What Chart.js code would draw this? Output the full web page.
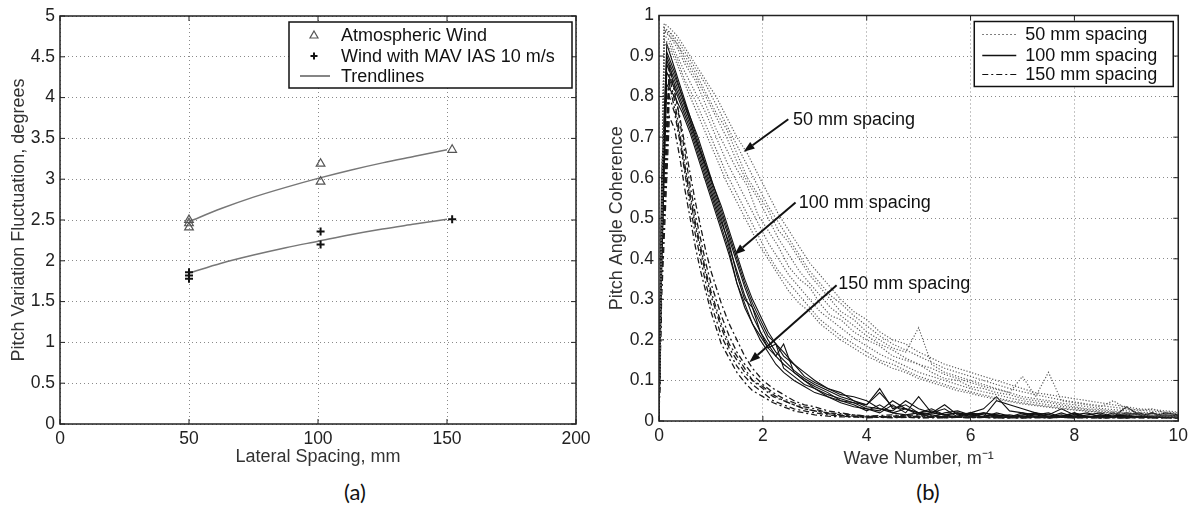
<!DOCTYPE html>
<html>
<head>
<meta charset="utf-8">
<script src="https://cdn.jsdelivr.net/npm/chart.js@4.4.0/dist/chart.umd.min.js"></script>
<style>
body { margin: 0; background: #fff; }
#wrap { position: relative; width: 1193px; height: 508px; overflow: hidden; }
.panel { position: absolute; top: 0; height: 470px; }
#pa { left: 0; width: 596px; }
#pb { left: 596px; width: 597px; }
.cap { position: absolute; top: 478px; font: 22px Lato, "Noto Sans", sans-serif; color: #111; transform: translateX(-50%); }
</style>
</head>
<body>
<div id="wrap">
  <div class="panel" id="pa"><canvas id="chartA"></canvas></div>
  <div class="panel" id="pb"><canvas id="chartB"></canvas></div>
  <div class="cap" style="left:355px">(a)</div>
  <div class="cap" style="left:928px">(b)</div>
</div>
<script>
// ---- panel (a): pitch variation vs lateral spacing ----
const spacingAtm = [50, 50, 50, 101, 101, 152];
const pitchAtm = [2.50, 2.46, 2.41, 3.19, 2.97, 3.36];
const spacingMav = [50, 50, 50, 101, 101, 152];
const pitchMav = [1.86, 1.82, 1.78, 2.36, 2.20, 2.51];
const trendX = [50, 62.5, 75, 87.5, 100, 112.5, 125, 137.5, 150];
const trendAtm = [2.48, 2.64, 2.78, 2.90, 3.01, 3.11, 3.20, 3.28, 3.36];
const trendMav = [1.85, 1.97, 2.07, 2.16, 2.24, 2.32, 2.39, 2.45, 2.51];
const xTicksA = [0, 50, 100, 150, 200];
const yTicksA = [0, 0.5, 1, 1.5, 2, 2.5, 3, 3.5, 4, 4.5, 5];

// ---- panel (b): pitch angle coherence vs wave number ----
const wave50 = [0, 0.1, 0.2, 0.35, 0.5, 0.7, 0.9, 1.1, 1.3, 1.5, 1.7, 1.9, 2.1, 2.3, 2.5, 2.7, 2.9, 3.1, 3.3, 3.5,
  3.75, 4, 4.25, 4.5, 4.75, 5, 5.25, 5.5, 5.75, 6, 6.25, 6.5, 6.75, 7, 7.25, 7.5, 7.75, 8, 8.25, 8.5, 8.75, 9, 9.25, 9.5, 9.75, 10];
const coh50 = [
  [0, 0.97, 0.96, 0.94, 0.91, 0.87, 0.83, 0.78, 0.73, 0.68, 0.63, 0.58, 0.53, 0.49, 0.45, 0.41, 0.37, 0.34, 0.31, 0.29,
   0.26, 0.235, 0.21, 0.19, 0.175, 0.16, 0.145, 0.13, 0.12, 0.11, 0.10, 0.09, 0.08, 0.072, 0.065, 0.058, 0.052, 0.047, 0.042, 0.038, 0.034, 0.03, 0.027, 0.024, 0.022, 0.02],
  [0, 0.96, 0.95, 0.93, 0.89, 0.85, 0.80, 0.75, 0.70, 0.64, 0.59, 0.55, 0.50, 0.45, 0.41, 0.37, 0.34, 0.31, 0.28, 0.26,
   0.235, 0.21, 0.19, 0.175, 0.155, 0.14, 0.13, 0.115, 0.105, 0.095, 0.085, 0.078, 0.07, 0.06, 0.055, 0.05, 0.044, 0.04, 0.035, 0.031, 0.028, 0.025, 0.022, 0.02, 0.018, 0.016],
  [0, 0.97, 0.95, 0.92, 0.88, 0.84, 0.78, 0.72, 0.67, 0.62, 0.58, 0.51, 0.47, 0.43, 0.38, 0.35, 0.33, 0.29, 0.26, 0.25,
   0.22, 0.20, 0.185, 0.16, 0.15, 0.14, 0.12, 0.105, 0.10, 0.085, 0.08, 0.07, 0.065, 0.055, 0.05, 0.046, 0.04, 0.035, 0.03, 0.028, 0.024, 0.02, 0.02, 0.017, 0.015, 0.013],
  [0, 0.95, 0.94, 0.90, 0.86, 0.81, 0.76, 0.70, 0.64, 0.59, 0.54, 0.49, 0.44, 0.40, 0.36, 0.33, 0.30, 0.27, 0.25, 0.23,
   0.205, 0.185, 0.165, 0.15, 0.135, 0.12, 0.11, 0.10, 0.09, 0.08, 0.072, 0.065, 0.057, 0.05, 0.045, 0.04, 0.036, 0.032, 0.028, 0.025, 0.022, 0.019, 0.017, 0.015, 0.013, 0.012],
  [0, 0.94, 0.93, 0.89, 0.84, 0.79, 0.73, 0.67, 0.61, 0.56, 0.51, 0.46, 0.41, 0.37, 0.34, 0.31, 0.28, 0.25, 0.23, 0.21,
   0.19, 0.17, 0.15, 0.14, 0.125, 0.11, 0.10, 0.09, 0.08, 0.072, 0.064, 0.057, 0.05, 0.045, 0.04, 0.036, 0.032, 0.028, 0.025, 0.022, 0.02, 0.017, 0.015, 0.013, 0.012, 0.01],
  [0, 0.96, 0.96, 0.93, 0.90, 0.86, 0.81, 0.76, 0.72, 0.66, 0.60, 0.56, 0.52, 0.47, 0.44, 0.40, 0.36, 0.33, 0.30, 0.27,
   0.25, 0.22, 0.20, 0.18, 0.17, 0.23, 0.14, 0.12, 0.11, 0.10, 0.09, 0.08, 0.07, 0.11, 0.06, 0.12, 0.05, 0.045, 0.04, 0.035, 0.05, 0.03, 0.026, 0.03, 0.02, 0.018],
  [0, 0.98, 0.97, 0.95, 0.92, 0.88, 0.84, 0.80, 0.75, 0.70, 0.66, 0.61, 0.56, 0.51, 0.47, 0.43, 0.39, 0.36, 0.33, 0.30,
   0.27, 0.25, 0.22, 0.20, 0.19, 0.17, 0.155, 0.14, 0.13, 0.12, 0.11, 0.10, 0.09, 0.08, 0.07, 0.065, 0.06, 0.055, 0.05, 0.045, 0.04, 0.035, 0.03, 0.028, 0.025, 0.022],
  [0, 0.93, 0.92, 0.88, 0.83, 0.77, 0.71, 0.65, 0.59, 0.54, 0.49, 0.44, 0.40, 0.36, 0.32, 0.29, 0.27, 0.24, 0.22, 0.20,
   0.18, 0.16, 0.145, 0.13, 0.12, 0.105, 0.095, 0.085, 0.075, 0.068, 0.06, 0.054, 0.048, 0.042, 0.038, 0.034, 0.03, 0.027, 0.024, 0.021, 0.019, 0.016, 0.014, 0.013, 0.011, 0.01]
];

const wave100 = [0, 0.05, 0.15, 0.3, 0.45, 0.6, 0.75, 0.9, 1.05, 1.2, 1.35, 1.5, 1.65, 1.8, 1.95, 2.1, 2.25, 2.4, 2.6, 2.8, 3, 3.25, 3.5, 3.75,
  4, 4.25, 4.5, 4.75, 5, 5.25, 5.5, 5.75, 6, 6.25, 6.5, 6.75, 7, 7.25, 7.5, 7.75, 8, 8.25, 8.5, 8.75, 9, 9.25, 9.5, 9.75, 10];
const coh100 = [
  [0, 0.55, 0.93, 0.87, 0.81, 0.75, 0.69, 0.63, 0.57, 0.51, 0.45, 0.39, 0.33, 0.28, 0.24, 0.20, 0.17, 0.15, 0.125, 0.105, 0.09, 0.075, 0.06, 0.05,
   0.04, 0.08, 0.03, 0.04, 0.02, 0.03, 0.015, 0.02, 0.01, 0.02, 0.012, 0.015, 0.01, 0.02, 0.01, 0.015, 0.008, 0.012, 0.01, 0.015, 0.008, 0.01, 0.012, 0.008, 0.01],
  [0, 0.6, 0.91, 0.86, 0.80, 0.74, 0.68, 0.62, 0.56, 0.50, 0.43, 0.37, 0.31, 0.26, 0.22, 0.19, 0.16, 0.14, 0.12, 0.10, 0.08, 0.065, 0.055, 0.045,
   0.03, 0.02, 0.04, 0.02, 0.06, 0.02, 0.03, 0.01, 0.015, 0.01, 0.02, 0.012, 0.01, 0.015, 0.02, 0.01, 0.012, 0.008, 0.015, 0.01, 0.012, 0.008, 0.01, 0.012, 0.008],
  [0, 0.45, 0.89, 0.84, 0.79, 0.74, 0.68, 0.63, 0.58, 0.52, 0.46, 0.40, 0.34, 0.29, 0.25, 0.21, 0.19, 0.16, 0.14, 0.11, 0.095, 0.08, 0.065, 0.06,
   0.05, 0.03, 0.02, 0.03, 0.015, 0.02, 0.04, 0.015, 0.02, 0.03, 0.06, 0.025, 0.02, 0.015, 0.01, 0.02, 0.01, 0.015, 0.02, 0.01, 0.035, 0.015, 0.01, 0.015, 0.012],
  [0, 0.5, 0.86, 0.82, 0.77, 0.72, 0.66, 0.60, 0.54, 0.48, 0.42, 0.34, 0.28, 0.24, 0.21, 0.18, 0.19, 0.13, 0.11, 0.09, 0.08, 0.06, 0.05, 0.04,
   0.025, 0.04, 0.02, 0.015, 0.02, 0.01, 0.02, 0.025, 0.015, 0.01, 0.015, 0.01, 0.02, 0.01, 0.015, 0.03, 0.015, 0.01, 0.01, 0.02, 0.01, 0.012, 0.02, 0.01, 0.015],
  [0, 0.4, 0.83, 0.80, 0.76, 0.71, 0.65, 0.59, 0.53, 0.47, 0.41, 0.34, 0.29, 0.24, 0.20, 0.17, 0.14, 0.12, 0.10, 0.085, 0.07, 0.06, 0.045, 0.035,
   0.03, 0.025, 0.05, 0.03, 0.02, 0.015, 0.01, 0.012, 0.02, 0.015, 0.01, 0.008, 0.012, 0.01, 0.008, 0.012, 0.02, 0.01, 0.008, 0.01, 0.015, 0.02, 0.01, 0.008, 0.01],
  [0, 0.35, 0.90, 0.85, 0.80, 0.75, 0.70, 0.64, 0.58, 0.53, 0.47, 0.41, 0.35, 0.30, 0.26, 0.22, 0.19, 0.17, 0.14, 0.12, 0.10, 0.08, 0.07, 0.05,
   0.035, 0.03, 0.025, 0.05, 0.03, 0.02, 0.015, 0.01, 0.02, 0.01, 0.05, 0.04, 0.03, 0.02, 0.015, 0.01, 0.02, 0.01, 0.015, 0.01, 0.02, 0.015, 0.01, 0.02, 0.015],
  [0, 0.5, 0.88, 0.83, 0.78, 0.73, 0.67, 0.61, 0.55, 0.49, 0.44, 0.36, 0.30, 0.28, 0.22, 0.18, 0.16, 0.19, 0.12, 0.10, 0.085, 0.07, 0.05, 0.045,
   0.04, 0.07, 0.035, 0.03, 0.02, 0.025, 0.015, 0.02, 0.015, 0.02, 0.015, 0.01, 0.015, 0.02, 0.01, 0.01, 0.015, 0.02, 0.01, 0.012, 0.015, 0.01, 0.02, 0.01, 0.012]
];

const wave150 = [0, 0.05, 0.2, 0.3, 0.4, 0.5, 0.6, 0.7, 0.8, 0.9, 1, 1.1, 1.2, 1.35, 1.5, 1.65, 1.8, 2, 2.2, 2.4,
  2.6, 2.8, 3, 3.25, 3.5, 3.75, 4, 4.5, 5, 5.5, 6, 6.5, 7, 7.5, 8, 8.5, 9, 9.5, 10];
const coh150 = [
  [0, 0.45, 0.88, 0.82, 0.74, 0.66, 0.58, 0.51, 0.45, 0.39, 0.34, 0.30, 0.26, 0.21, 0.17, 0.14, 0.115, 0.09, 0.07, 0.055,
   0.045, 0.035, 0.03, 0.02, 0.018, 0.015, 0.012, 0.015, 0.01, 0.012, 0.01, 0.008, 0.01, 0.008, 0.01, 0.008, 0.01, 0.008, 0.008],
  [0, 0.4, 0.85, 0.79, 0.71, 0.63, 0.56, 0.49, 0.43, 0.37, 0.32, 0.28, 0.24, 0.19, 0.16, 0.13, 0.10, 0.08, 0.06, 0.05,
   0.04, 0.03, 0.025, 0.02, 0.015, 0.012, 0.01, 0.012, 0.015, 0.01, 0.008, 0.01, 0.012, 0.008, 0.01, 0.008, 0.008, 0.01, 0.008],
  [0, 0.35, 0.80, 0.76, 0.69, 0.61, 0.53, 0.46, 0.40, 0.34, 0.29, 0.25, 0.21, 0.17, 0.135, 0.11, 0.09, 0.07, 0.05, 0.04,
   0.03, 0.025, 0.02, 0.015, 0.012, 0.01, 0.01, 0.008, 0.01, 0.008, 0.01, 0.008, 0.008, 0.01, 0.008, 0.01, 0.008, 0.008, 0.01],
  [0, 0.3, 0.75, 0.72, 0.65, 0.57, 0.50, 0.43, 0.37, 0.32, 0.27, 0.23, 0.19, 0.155, 0.12, 0.095, 0.075, 0.06, 0.045, 0.035,
   0.025, 0.02, 0.015, 0.012, 0.01, 0.01, 0.008, 0.01, 0.008, 0.008, 0.01, 0.008, 0.008, 0.01, 0.008, 0.008, 0.01, 0.008, 0.008],
  [0, 0.42, 0.87, 0.81, 0.75, 0.68, 0.61, 0.54, 0.48, 0.42, 0.37, 0.33, 0.29, 0.24, 0.20, 0.16, 0.13, 0.10, 0.08, 0.065,
   0.05, 0.04, 0.035, 0.025, 0.02, 0.015, 0.012, 0.01, 0.012, 0.01, 0.01, 0.012, 0.008, 0.01, 0.008, 0.01, 0.008, 0.01, 0.008],
  [0, 0.38, 0.83, 0.77, 0.70, 0.62, 0.55, 0.48, 0.42, 0.36, 0.31, 0.27, 0.23, 0.18, 0.15, 0.12, 0.10, 0.085, 0.065, 0.05,
   0.04, 0.03, 0.025, 0.018, 0.014, 0.012, 0.01, 0.01, 0.008, 0.01, 0.008, 0.01, 0.008, 0.008, 0.01, 0.008, 0.008, 0.01, 0.008]
];
const xTicksB = [0, 2, 4, 6, 8, 10];
const yTicksB = [0, 0.1, 0.2, 0.3, 0.4, 0.5, 0.6, 0.7, 0.8, 0.9, 1];

// arrow annotations in panel (b), data units
const noteText = ['50 mm spacing', '100 mm spacing', '150 mm spacing'];
const noteAt = [[2.58, 0.744], [2.69, 0.539], [3.45, 0.34]];
const arrowFrom = [[2.49, 0.744], [2.63, 0.539], [3.42, 0.335]];
const arrowTo = [[1.63, 0.664], [1.45, 0.41], [1.74, 0.145]];

const SANS = '"Liberation Sans", Arial, Helvetica, sans-serif';
const INK = '#222';

function pts(xs, ys) {
  return xs.map((x, i) => ({ x: x, y: ys[i] }));
}

// box round the plot with inward ticks on all four sides
const framePlugin = {
  id: 'frame',
  afterDatasetsDraw(chart) {
    const { ctx, chartArea: a, scales: { x, y } } = chart;
    ctx.save();
    ctx.strokeStyle = '#222';
    ctx.lineWidth = 1.5;
    ctx.strokeRect(a.left, a.top, a.right - a.left, a.bottom - a.top);
    ctx.lineWidth = 1;
    ctx.beginPath();
    const len = 5;
    x.ticks.forEach(t => {
      const px = x.getPixelForValue(t.value);
      ctx.moveTo(px, a.bottom); ctx.lineTo(px, a.bottom - len);
      ctx.moveTo(px, a.top); ctx.lineTo(px, a.top + len);
    });
    y.ticks.forEach(t => {
      const py = y.getPixelForValue(t.value);
      ctx.moveTo(a.left, py); ctx.lineTo(a.left + len, py);
      ctx.moveTo(a.right, py); ctx.lineTo(a.right - len, py);
    });
    ctx.stroke();
    ctx.restore();
  }
};

// boxed legend inside the plot, top right
const boxLegend = {
  id: 'boxLegend',
  afterDraw(chart, args, o) {
    const { ctx, chartArea: a } = chart;
    const bx = a.right - o.right - o.width;
    const by = a.top + o.top;
    ctx.save();
    ctx.fillStyle = '#fff';
    ctx.fillRect(bx, by, o.width, o.height);
    ctx.strokeStyle = '#111';
    ctx.lineWidth = 1.5;
    ctx.strokeRect(bx, by, o.width, o.height);
    ctx.font = '18px ' + SANS;
    ctx.textBaseline = 'middle';
    o.items.forEach((it, i) => {
      const yy = by + o.rows[i];
      ctx.save();
      ctx.strokeStyle = it.color;
      ctx.lineWidth = it.width || 1.2;
      if (it.kind === 'triangle') {
        const cx = bx + o.mark, r = 4;
        ctx.beginPath();
        ctx.moveTo(cx, yy - r);
        ctx.lineTo(cx + r, yy + r * 0.75);
        ctx.lineTo(cx - r, yy + r * 0.75);
        ctx.closePath();
        ctx.stroke();
      } else if (it.kind === 'plus') {
        const cx = bx + o.mark, r = 3.5;
        ctx.beginPath();
        ctx.moveTo(cx - r, yy); ctx.lineTo(cx + r, yy);
        ctx.moveTo(cx, yy - r); ctx.lineTo(cx, yy + r);
        ctx.stroke();
      } else {
        ctx.setLineDash(it.dash || []);
        ctx.beginPath();
        ctx.moveTo(bx + o.line[0], yy);
        ctx.lineTo(bx + o.line[1], yy);
        ctx.stroke();
      }
      ctx.restore();
      ctx.fillStyle = '#111';
      ctx.fillText(it.text, bx + o.textX, yy + 1);
    });
    ctx.restore();
  }
};

// labelled arrows for panel (b)
const arrowPlugin = {
  id: 'arrows',
  afterDatasetsDraw(chart) {
    const { ctx, scales: { x, y } } = chart;
    ctx.save();
    ctx.fillStyle = '#111';
    ctx.strokeStyle = '#111';
    ctx.font = '18px ' + SANS;
    ctx.textBaseline = 'middle';
    noteText.forEach((t, i) => {
      const x0 = x.getPixelForValue(arrowFrom[i][0]), y0 = y.getPixelForValue(arrowFrom[i][1]);
      const x1 = x.getPixelForValue(arrowTo[i][0]), y1 = y.getPixelForValue(arrowTo[i][1]);
      const ang = Math.atan2(y1 - y0, x1 - x0);
      const hl = 11, hw = 4;
      const bxp = x1 - hl * Math.cos(ang), byp = y1 - hl * Math.sin(ang);
      ctx.lineWidth = 2;
      ctx.beginPath();
      ctx.moveTo(x0, y0);
      ctx.lineTo(bxp, byp);
      ctx.stroke();
      ctx.beginPath();
      ctx.moveTo(x1, y1);
      ctx.lineTo(bxp + hw * Math.sin(ang), byp - hw * Math.cos(ang));
      ctx.lineTo(bxp - hw * Math.sin(ang), byp + hw * Math.cos(ang));
      ctx.closePath();
      ctx.fill();
      ctx.fillText(t, x.getPixelForValue(noteAt[i][0]), y.getPixelForValue(noteAt[i][1]) + 1);
    });
    ctx.restore();
  }
};

function axis(ticks, min, max, size, title, titlePad, isY) {
  return {
    type: 'linear',
    min: min,
    max: max,
    afterBuildTicks: s => { s.ticks = ticks.map(v => ({ value: v })); },
    afterFit: s => { if (isY) s.width = size; else s.height = size; },
    grid: { color: '#8a8a8a', lineWidth: 1, drawTicks: false },
    border: { display: false, dash: [1, 3] },
    ticks: { padding: 5, color: INK, font: { family: SANS, size: 17.5 }, callback: v => String(v) },
    title: { display: true, text: title, color: '#333', font: { family: SANS, size: 18 }, padding: titlePad }
  };
}

// chart (a)
new Chart(document.getElementById('chartA'), {
  type: 'scatter',
  data: {
    datasets: [
      { label: 'Atmospheric Wind', data: pts(spacingAtm, pitchAtm), pointStyle: 'triangle', pointRadius: 5,
        borderColor: '#555', backgroundColor: 'rgba(0,0,0,0)', borderWidth: 1.2 },
      { label: 'Wind with MAV IAS 10 m/s', data: pts(spacingMav, pitchMav), pointStyle: 'cross', pointRadius: 4,
        borderColor: '#111', borderWidth: 2 },
      { label: 'Trendlines', data: pts(trendX, trendAtm), showLine: true, pointRadius: 0, borderColor: '#777',
        borderWidth: 1.5, cubicInterpolationMode: 'monotone' },
      { label: 'Trendlines', data: pts(trendX, trendMav), showLine: true, pointRadius: 0, borderColor: '#777',
        borderWidth: 1.5, cubicInterpolationMode: 'monotone' }
    ]
  },
  options: {
    responsive: true,
    maintainAspectRatio: false,
    animation: false,
    layout: { padding: { top: 16, right: 20, left: 0, bottom: 0 } },
    plugins: {
      legend: { display: false },
      tooltip: { enabled: false },
      boxLegend: {
        right: 4, top: 6, width: 283, height: 66, rows: [13, 34, 54], mark: 25, line: [11, 41], textX: 52,
        items: [
          { kind: 'triangle', text: 'Atmospheric Wind', color: '#555' },
          { kind: 'plus', text: 'Wind with MAV IAS 10 m/s', color: '#111', width: 2 },
          { kind: 'line', text: 'Trendlines', color: '#333', width: 1.2 }
        ]
      }
    },
    scales: {
      x: axis(xTicksA, 0, 200, 46, 'Lateral Spacing, mm', { top: 0, bottom: 2 }, false),
      y: axis(yTicksA, 0, 5, 60, 'Pitch Variation Fluctuation, degrees', { top: 8, bottom: 0 }, true)
    }
  },
  plugins: [framePlugin, boxLegend]
});

// chart (b)
const setsB = [];
coh50.forEach(c => setsB.push({ label: '50 mm spacing', data: pts(wave50, c), showLine: true, pointRadius: 0,
  borderColor: '#5e5e5e', borderWidth: 1.2, borderDash: [1.2, 1.8] }));
coh150.forEach(c => setsB.push({ label: '150 mm spacing', data: pts(wave150, c), showLine: true, pointRadius: 0,
  borderColor: '#1a1a1a', borderWidth: 1.3, borderDash: [6, 3, 2, 3] }));
coh100.forEach(c => setsB.push({ label: '100 mm spacing', data: pts(wave100, c), showLine: true, pointRadius: 0,
  borderColor: '#111', borderWidth: 1.1 }));

new Chart(document.getElementById('chartB'), {
  type: 'scatter',
  data: { datasets: setsB },
  options: {
    responsive: true,
    maintainAspectRatio: false,
    animation: false,
    layout: { padding: { top: 12, right: 14, left: 0, bottom: 0 } },
    plugins: {
      legend: { display: false },
      tooltip: { enabled: false },
      boxLegend: {
        right: 5, top: 6, width: 199, height: 65, rows: [13, 34, 53], mark: 25, line: [8, 42], textX: 51,
        items: [
          { kind: 'line', text: '50 mm spacing', color: '#555', width: 1, dash: [1.5, 2.5] },
          { kind: 'line', text: '100 mm spacing', color: '#111', width: 1.5 },
          { kind: 'line', text: '150 mm spacing', color: '#111', width: 1.2, dash: [6, 3, 2, 3] }
        ]
      }
    },
    scales: {
      x: axis(xTicksB, 0, 10, 49, 'Wave Number, m\u207B\u00B9', { top: 0, bottom: 0 }, false),
      y: axis(yTicksB, 0, 1, 63, 'Pitch Angle Coherence', { top: 10, bottom: 0 }, true)
    }
  },
  plugins: [framePlugin, arrowPlugin, boxLegend]
});
</script>
</body>
</html>
